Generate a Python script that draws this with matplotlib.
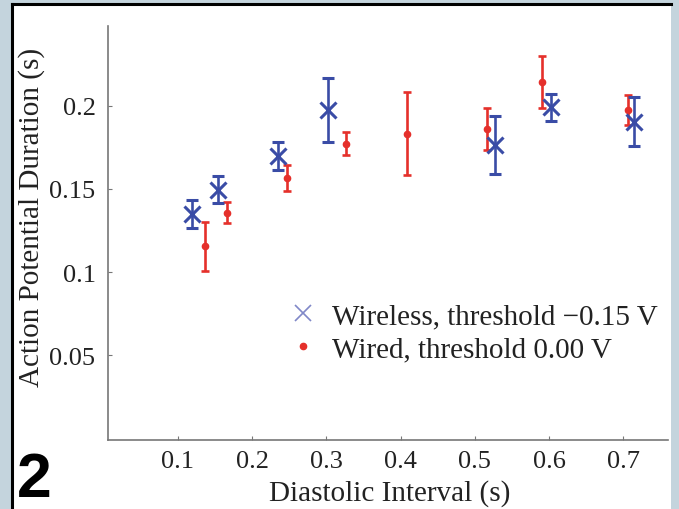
import matplotlib
matplotlib.use("Agg")
import matplotlib.pyplot as plt
from matplotlib.patches import Rectangle
from matplotlib.lines import Line2D

# wireless recording, threshold -0.15 V
wireless_di = [0.119, 0.154, 0.235, 0.302, 0.527, 0.603, 0.714]
wireless_apd = [0.1348, 0.1496, 0.1698, 0.1975, 0.1762, 0.1990, 0.1905]
wireless_err = [0.0085, 0.0083, 0.0085, 0.0192, 0.0175, 0.0080, 0.0145]

# wired recording, threshold 0.00 V
wired_di = [0.136, 0.166, 0.247, 0.326, 0.408, 0.516, 0.591, 0.706]
wired_apd = [0.1155, 0.1357, 0.1565, 0.1772, 0.1832, 0.1862, 0.2143, 0.1975]
wired_err = [0.0147, 0.0063, 0.0078, 0.0070, 0.0250, 0.0126, 0.0155, 0.0093]

xticks = [0.1, 0.2, 0.3, 0.4, 0.5, 0.6, 0.7]
yticks = [0.05, 0.1, 0.15, 0.2]

blue = "#3a4ca6"
red = "#e5302b"
serif = ["Liberation Serif", "DejaVu Serif"]

W, H = 679, 510
fig = plt.figure(figsize=(W / 100, H / 100), dpi=100)
fig.patch.set_facecolor("#c4d4dd")

# white panel with black top/left border
fig.patches.append(Rectangle((12 / W, 0), (671 - 12) / W, (H - 5) / H,
                             transform=fig.transFigure, facecolor="white",
                             edgecolor="none", zorder=-5))
fig.lines.append(Line2D([12 / W, 671 / W], [(H - 5) / H, (H - 5) / H],
                        transform=fig.transFigure, color="black", lw=2.2,
                        zorder=-4))
fig.lines.append(Line2D([12 / W, 12 / W], [0, (H - 5) / H],
                        transform=fig.transFigure, color="black", lw=2.2,
                        zorder=-4))

ax = fig.add_axes([108 / W, (H - 441) / H, (668 - 108) / W, (441 - 27) / H])
ax.set_facecolor("none")

ax.errorbar(wireless_di, wireless_apd, yerr=wireless_err, fmt="x", color=blue,
            ms=12, mew=2.2, elinewidth=1.9, capsize=4.5, capthick=1.9,
            label="Wireless, threshold \u22120.15 V", zorder=3)
ax.errorbar(wired_di, wired_apd, yerr=wired_err, fmt="o", color=red,
            ms=4.5, elinewidth=1.9, capsize=3, capthick=1.9,
            label="Wired, threshold 0.00 V", zorder=2)

ax.set_xlim(0.006, 0.760)
ax.set_ylim(-0.001, 0.248)
ax.set_xticks(xticks)
ax.set_xticklabels([f"{v:g}" for v in xticks])
ax.set_yticks(yticks)
ax.set_yticklabels([f"{v:g}" for v in yticks])

for s in ["top", "right"]:
    ax.spines[s].set_visible(False)
for s in ["left", "bottom"]:
    ax.spines[s].set_color("#777777")
    ax.spines[s].set_linewidth(1.2)

ax.tick_params(direction="in", length=3, width=0.8, color="#777777",
               labelsize=19, labelcolor="#222222")
ax.tick_params(axis="y", pad=9)
ax.tick_params(axis="x", pad=7)
for lab in ax.get_xticklabels() + ax.get_yticklabels():
    lab.set_family(serif)

ax.set_xlabel("Diastolic Interval (s)", family=serif, fontsize=21, color="#222222")
ax.set_ylabel("Action Potential Duration (s)", family=serif, fontsize=21,
              color="#222222")
ax.xaxis.set_label_coords(0.503, -0.094)
ax.yaxis.set_label_coords(-0.112, 0.54)

handles = [
    Line2D([], [], ls="none", marker="x", color="#8088c8", ms=11, mew=1.2),
    Line2D([], [], ls="none", marker="o", color=red, ms=4.5),
]
ax.legend(handles, ["Wireless, threshold \u22120.15 V", "Wired, threshold 0.00 V"],
          loc="upper left", bbox_to_anchor=((280 - 108) / 560, (441 - 292) / 414),
          frameon=False, handlelength=0.8, handletextpad=0.6, labelspacing=0.22,
          borderaxespad=0, prop={"family": serif, "size": 21},
          labelcolor="#222222")

fig.text(17 / W, (H - 497) / H, "2", family=["Liberation Sans", "DejaVu Sans"],
         fontweight="bold", fontsize=45, color="black", ha="left", va="baseline")

fig.savefig("out.png", dpi=100)
